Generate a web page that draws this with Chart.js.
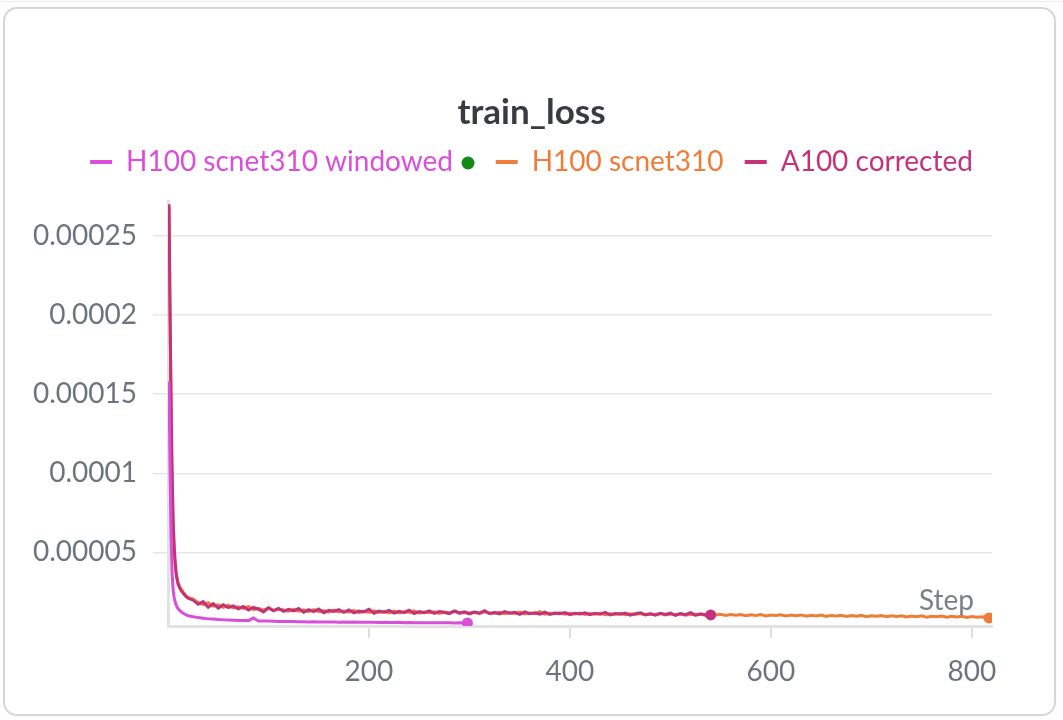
<!DOCTYPE html>
<html>
<head>
<meta charset="utf-8">
<script src="https://cdn.jsdelivr.net/npm/chart.js@4.4.1/dist/chart.umd.min.js"></script>
<style>
  html, body { margin: 0; padding: 0; background: #ffffff; }
  #wrap { position: relative; width: 1063px; height: 720px; }
  #card { position: absolute; left: 3px; top: 7px; width: 1049px; height: 705px;
          border: 2px solid #d6d6d6; border-radius: 14px; pointer-events: none; }
  #topline { position: absolute; left: 0; top: 1px; width: 1063px; height: 1px; background: #ececec; }
  canvas { position: absolute; left: 0; top: 0; }
</style>
</head>
<body>
<div id="wrap">
  <canvas id="c" width="1063" height="720"></canvas>
  <div id="topline"></div>
  <div id="card"></div>
</div>
<script>
// ---- data (loss values in units of 1e-6) ----
const chartTitle = "train_loss";
const seriesNames = ["H100 scnet310 windowed", "H100 scnet310", "A100 corrected"];
const seriesColors = ["#d94fd9", "#ef7d3a", "#c4327a"];
const xTickValues = [200, 400, 600, 800];
const xTickLabels = ["200", "400", "600", "800"];
const yTickValues = [50, 100, 150, 200, 250];
const yTickLabels = ["0.00005", "0.0001", "0.00015", "0.0002", "0.00025"];

const earlySteps = [1, 2, 3, 4, 5, 6, 7, 8, 9, 10, 12, 14, 16, 18, 20];

// H100 scnet310 windowed: early steps, then steps 25..295 every 5, then final step 298
const windowedEarly = [158, 105, 62, 38, 27, 22, 19, 17, 15.5, 14.5, 13, 12, 11.2, 10.5, 10];
const windowedLater = [
  9.3, 8.8, 8.4, 8.0, 7.9, 7.6, 7.4, 7.3, 7.1, 6.9,
  7.0, 6.9, 8.6, 6.7, 6.6, 6.6, 6.5, 6.4, 6.4, 6.3,
  6.3, 6.2, 6.2, 6.1, 6.2, 6.0, 6.1, 6.0, 6.0, 5.9,
  6.0, 5.9, 6.0, 5.9, 5.8, 5.8, 5.9, 5.7, 5.8, 5.7,
  5.7, 5.8, 5.6, 5.7, 5.6, 5.6, 5.5, 5.6, 5.5, 5.6,
  5.5, 5.5, 5.4, 5.5, 5.4
];
const windowedLastStep = 298;
const windowedLast = 5.4;

// H100 scnet310: early steps, then 25..815 every 5, then final step 817
const h100Early = [268, 200, 145, 100, 71, 55, 45, 38, 34, 31, 28, 26, 24, 22.5, 21.5];
const h100Later = [
  20.5, 18.4, 17.0, 18.2, 16.1, 16.8, 15.3, 16.6, 14.9, 15.7,
  14.6, 15.9, 13.8, 14.7, 13.5, 14.9, 13.1, 14.2, 13.6, 12.9,
  14.0, 12.8, 13.7, 12.5, 13.9, 12.6, 13.2, 12.3, 13.5, 12.4,
  13.0, 12.2, 13.4, 11.9, 12.8, 12.1, 13.1, 12.0, 12.6, 11.8,
  12.9, 11.7, 12.4, 12.0, 13.0, 11.6, 12.3, 11.9, 12.5, 11.5,
  12.1, 11.8, 12.7, 11.4, 12.0, 11.7, 12.2, 11.3, 12.4, 11.6,
  11.5, 12.1, 11.2, 11.9, 11.4, 12.3, 11.1, 11.7, 11.3, 12.6,
  11.0, 11.6, 11.2, 11.8, 10.9, 11.5, 11.1, 11.7, 10.8, 11.4,
  11.0, 11.6, 10.7, 11.3, 10.9, 11.5, 10.6, 11.2, 10.8, 11.4,
  10.5, 11.1, 10.7, 11.3, 10.4, 11.0, 10.6, 11.2, 10.3, 10.9,
  10.5, 11.0, 10.2, 10.8, 10.4, 10.9, 10.1, 10.7, 10.3, 10.8,
  10.0, 10.6, 10.2, 10.7, 9.9, 10.5, 10.1, 10.6, 9.8, 10.4,
  10.0, 10.5, 9.7, 10.3, 9.9, 10.4, 9.6, 10.2, 9.8, 10.3,
  9.5, 10.1, 9.7, 10.2, 9.4, 10.0, 9.6, 10.1, 9.3, 9.9,
  9.5, 10.0, 9.2, 9.8, 9.4, 9.9, 9.1, 9.7, 9.3, 9.8,
  9.0, 9.6, 9.2, 9.7, 8.9, 9.5, 9.1, 9.4, 8.8
];
const h100LastStep = 817;
const h100Last = 8.6;

// A100 corrected: early steps, then 25..540 every 5
const a100Early = [270, 205, 148, 102, 72, 55, 44, 37, 33, 30, 27, 25, 23.5, 22, 21];
const a100Later = [
  19.8, 17.2, 18.9, 15.4, 17.6, 14.8, 16.9, 15.1, 16.2, 14.3,
  15.8, 13.6, 15.2, 14.1, 12.4, 15.0, 13.2, 14.6, 12.8, 14.0,
  13.1, 14.5, 12.2, 13.8, 12.6, 14.2, 11.9, 13.4, 12.7, 13.9,
  12.1, 13.6, 11.8, 13.0, 12.4, 14.1, 11.6, 12.9, 12.2, 13.3,
  11.7, 12.8, 12.1, 13.5, 11.4, 12.6, 11.9, 13.1, 11.5, 12.7,
  12.2, 11.3, 13.0, 11.8, 12.5, 11.1, 12.3, 11.7, 13.2, 11.4,
  12.0, 11.2, 12.6, 11.6, 12.1, 10.9, 12.4, 11.3, 11.9, 11.0,
  12.2, 10.8, 11.7, 11.2, 12.0, 10.7, 11.5, 11.1, 11.8, 10.6,
  11.6, 11.0, 12.1, 10.5, 11.4, 10.9, 11.7, 10.4, 11.3, 11.8,
  10.6, 11.2, 10.3, 11.5, 10.8, 11.6, 10.2, 11.3, 10.7, 11.9,
  10.4, 11.1, 10.6, 10.5
];

// ---- build points (later samples are every 5 steps from step 25) ----
function toPoints(early, later, lastStep, lastVal) {
  const pts = early.map((v, i) => ({ x: earlySteps[i], y: v }));
  later.forEach((v, i) => pts.push({ x: 25 + 5 * i, y: v }));
  if (lastStep !== undefined) pts.push({ x: lastStep, y: lastVal });
  return pts;
}
const windowedPts = toPoints(windowedEarly, windowedLater, windowedLastStep, windowedLast);
const h100Pts = toPoints(h100Early, h100Later, h100LastStep, h100Last);
const a100Pts = toPoints(a100Early, a100Later);

const FONT = "Lato";
const TICK_COLOR = "#6e747e";
const LEGEND_SIZE = 28;
// trailing gaps after legend texts (first one leaves room for the status dot)
const legendGaps = ["    ", " ", ""];

function lastDot(ctx) {
  return ctx.dataIndex === ctx.dataset.data.length - 1 ? 5.5 : 0;
}
function mkDataset(name, color, pts) {
  return {
    label: name, data: pts, borderColor: color, backgroundColor: color,
    borderWidth: 3, pointRadius: lastDot, pointHoverRadius: 0,
    pointBackgroundColor: color, pointBorderWidth: 0, tension: 0, fill: false
  };
}

const extrasPlugin = {
  id: "extras",
  beforeInit(chart) {
    const lg = chart.legend;
    if (lg) {
      const orig = lg.fit;
      lg.fit = function () { orig.call(this); this.height += 15; };
    }
  },
  afterDraw(chart) {
    const c = chart.ctx;
    const lg = chart.legend;
    // green status dot right after the first legend entry's text
    if (lg && lg.legendHitBoxes && lg.legendHitBoxes[0]) {
      const hb = lg.legendHitBoxes[0];
      c.save();
      c.font = LEGEND_SIZE + "px " + FONT;
      const tw = c.measureText(seriesNames[0]).width;
      const boxW = 22 + LEGEND_SIZE / 2;
      c.fillStyle = "#138a13";
      c.beginPath();
      c.arc(hb.left + boxW + tw + 15, hb.top + hb.height / 2 + 1, 6.5, 0, Math.PI * 2);
      c.fill();
      c.restore();
    }
    // "Step" axis caption inside the plot
    const a = chart.chartArea;
    c.save();
    c.font = "28px " + FONT;
    c.fillStyle = "#7a808a";
    c.textAlign = "right";
    c.textBaseline = "alphabetic";
    c.fillText("Step", a.right - 18, a.bottom - 16);
    c.restore();
  }
};

new Chart(document.getElementById("c"), {
  type: "line",
  data: {
    datasets: [
      mkDataset(seriesNames[0], seriesColors[0], windowedPts),
      mkDataset(seriesNames[2], seriesColors[2], a100Pts),
      mkDataset(seriesNames[1], seriesColors[1], h100Pts)
    ]
  },
  options: {
    responsive: false,
    animation: false,
    events: [],
    layout: { padding: { top: 60, right: 0, left: 0, bottom: 0 } },
    plugins: {
      tooltip: { enabled: false },
      title: {
        display: true, text: chartTitle, color: "#383b40",
        font: { family: FONT, size: 35, weight: "bold" },
        padding: { top: 32, bottom: 0 }
      },
      legend: {
        display: true, position: "top", align: "center",
        labels: {
          font: { family: FONT, size: LEGEND_SIZE },
          usePointStyle: true, pointStyleWidth: 22, boxHeight: 22,
          padding: 14,
          generateLabels() {
            return seriesNames.map((n, i) => ({
              text: n + legendGaps[i],
              fillStyle: seriesColors[i], strokeStyle: seriesColors[i],
              fontColor: seriesColors[i], lineWidth: 4, pointStyle: "line",
              hidden: false, datasetIndex: i
            }));
          }
        }
      }
    },
    scales: {
      x: {
        type: "linear", min: 0, max: 820,
        afterBuildTicks(s) { s.ticks = xTickValues.map(v => ({ value: v })); },
        afterFit(s) { s.height = 94; },
        ticks: {
          color: TICK_COLOR, font: { family: FONT, size: 28 }, padding: 17,
          maxRotation: 0,
          callback(v) { const i = xTickValues.indexOf(v); return i >= 0 ? xTickLabels[i] : ""; }
        },
        grid: { drawOnChartArea: false, tickLength: 12, color: "#dedede", lineWidth: 2 },
        border: { display: true, color: "#e2e2e2", width: 3 }
      },
      y: {
        type: "linear", min: 3.5, max: 272,
        afterBuildTicks(s) { s.ticks = yTickValues.map(v => ({ value: v })); },
        afterFit(s) { s.width = 168; },
        ticks: {
          color: TICK_COLOR, font: { family: FONT, size: 28 }, padding: 16,
          callback(v) { const i = yTickValues.indexOf(v); return i >= 0 ? yTickLabels[i] : ""; }
        },
        grid: { drawOnChartArea: true, tickLength: 15, color: "#e6e6e6", lineWidth: 1.5 },
        border: { display: true, color: "#e2e2e2", width: 3 }
      },
      // empty right-hand spacer so the plot ends where the reference's does
      spacer: {
        type: "linear", position: "right", display: true, min: 0, max: 1,
        afterFit(s) { s.width = 71; },
        ticks: { display: false },
        grid: { display: false, drawTicks: false },
        border: { display: false }
      }
    }
  },
  plugins: [extrasPlugin]
});
</script>
</body>
</html>
